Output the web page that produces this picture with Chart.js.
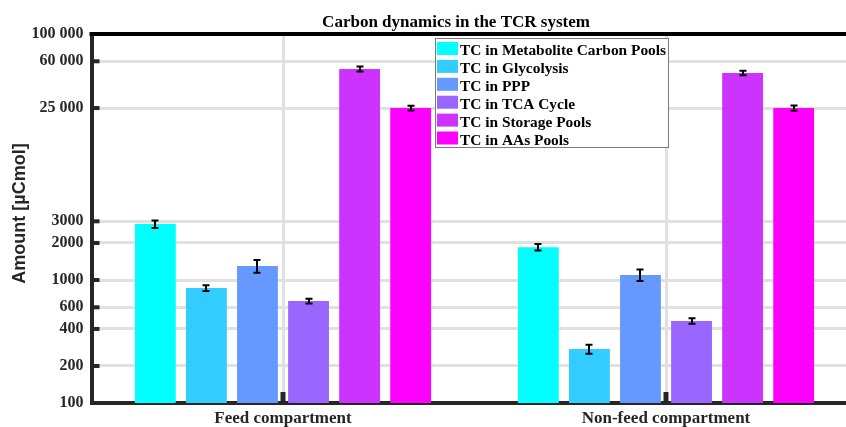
<!DOCTYPE html>
<html>
<head>
<meta charset="utf-8">
<script src="https://cdn.jsdelivr.net/npm/chart.js@4.4.1/dist/chart.umd.min.js"></script>
<style>
html,body{margin:0;padding:0;background:#fff;overflow:hidden;width:846px;height:427px}
#wrap{width:860px;height:427px}
</style>
</head>
<body>
<div id="wrap"><canvas id="c" width="860" height="427"></canvas></div>
<script>
// ---- data ----
const categories = ['Feed compartment', 'Non-feed compartment'];
const seriesLabels = ['TC in Metabolite Carbon Pools', 'TC in Glycolysis', 'TC in PPP', 'TC in TCA Cycle', 'TC in Storage Pools', 'TC in AAs Pools'];
const seriesColors = ['#00FFFF', '#33CCFF', '#6699FF', '#9966FF', '#CC33FF', '#FF00FF'];
const metabolite    = [2850, 1850];
const metaboliteErr = [200, 115];
const glycolysis    = [860, 275];
const glycolysisErr = [48, 23];
const ppp           = [1300, 1100];
const pppErr        = [155, 120];
const tca           = [675, 465];
const tcaErr        = [30, 24];
const storage       = [52000, 48200];
const storageErr    = [2400, 2000];
const aas           = [25000, 25000];
const aasErr        = [1100, 1200];
const yTicks = [100, 200, 400, 600, 1000, 2000, 3000, 25000, 60000, 100000];
const chartTitle = 'Carbon dynamics in the TCR system';
const yTitle = 'Amount [\u00B5Cmol]';

const seriesValues = [metabolite, glycolysis, ppp, tca, storage, aas];
const seriesErrors = [metaboliteErr, glycolysisErr, pppErr, tcaErr, storageErr, aasErr];

const SERIF = '"Liberation Serif", "Times New Roman", serif';
const SANS = '"Liberation Sans", Arial, sans-serif';
const AXIS = '#262626';

function fmt(v) {
  if (v >= 10000) {
    const s = String(Math.round(v));
    return s.slice(0, s.length - 3) + ' ' + s.slice(s.length - 3);
  }
  return String(v);
}

const extras = {
  id: 'extras',
  afterDatasetsDraw(chart) {
    const ctx = chart.ctx;
    const ca = chart.chartArea;
    const ys = chart.scales.y;
    const xs = chart.scales.x;
    ctx.save();
    // error bars
    ctx.strokeStyle = '#000';
    ctx.lineWidth = 2;
    seriesValues.forEach((vals, i) => {
      const meta = chart.getDatasetMeta(i);
      meta.data.forEach((el, j) => {
        const v = vals[j], e = seriesErrors[i][j];
        const x = Math.round(el.x);
        const yt = ys.getPixelForValue(v + e);
        const yb = ys.getPixelForValue(v - e);
        ctx.beginPath();
        ctx.moveTo(x, yt); ctx.lineTo(x, yb);
        ctx.moveTo(x - 3.5, yt); ctx.lineTo(x + 3.5, yt);
        ctx.moveTo(x - 3.5, yb); ctx.lineTo(x + 3.5, yb);
        ctx.stroke();
      });
    });
    // inner tick marks
    ctx.fillStyle = AXIS;
    yTicks.forEach(v => {
      const y = ys.getPixelForValue(v);
      ctx.fillRect(ca.left, y - 2, 8, 4);
    });
    categories.forEach((c, i) => {
      const x = xs.getPixelForValue(i);
      ctx.fillRect(x - 2.5, ca.bottom - 11, 5, 11);
    });
    // top border
    ctx.fillStyle = '#000';
    ctx.fillRect(ca.left - 2, ca.top - 2, ca.right - ca.left + 4, 4);

    // legend
    const lx = 435.5, ly = 38.5, lw = 233, lh = 109;
    ctx.fillStyle = '#fff';
    ctx.fillRect(lx, ly, lw, lh);
    ctx.strokeStyle = '#7a7a7a';
    ctx.lineWidth = 1;
    ctx.strokeRect(lx, ly, lw, lh);
    ctx.font = 'bold 15.4px ' + SERIF;
    ctx.textBaseline = 'alphabetic';
    ctx.textAlign = 'left';
    seriesLabels.forEach((lab, i) => {
      const ry = 42 + i * 17.9;
      ctx.fillStyle = seriesColors[i];
      ctx.fillRect(437, ry, 21, 13);
      ctx.fillStyle = '#000';
      ctx.fillText(lab, 460, ry + 13);
    });

    // title
    ctx.fillStyle = '#000';
    ctx.font = 'bold 17px ' + SERIF;
    ctx.textAlign = 'center';
    ctx.fillText(chartTitle, 456, 27);

    // y title
    ctx.save();
    ctx.translate(24.5, 213.5);
    ctx.rotate(-Math.PI / 2);
    ctx.fillStyle = AXIS;
    ctx.font = 'bold 18px ' + SANS;
    ctx.textAlign = 'center';
    ctx.textBaseline = 'alphabetic';
    ctx.fillText(yTitle, 0, 0);
    ctx.restore();

    ctx.restore();
  }
};

new Chart(document.getElementById('c'), {
  type: 'bar',
  data: {
    labels: categories,
    datasets: seriesLabels.map((lab, i) => ({
      label: lab,
      data: seriesValues[i],
      backgroundColor: seriesColors[i],
      borderWidth: 0,
      categoryPercentage: 0.8,
      barPercentage: 0.8
    }))
  },
  options: {
    responsive: false,
    animation: false,
    devicePixelRatio: 1,
    layout: { padding: { top: 34, right: 2.5, left: 0, bottom: 0 } },
    plugins: {
      legend: { display: false },
      title: { display: false },
      tooltip: { enabled: false }
    },
    scales: {
      x: {
        grid: { offset: false, color: '#e0e0e0', lineWidth: 3, drawTicks: false },
        border: { display: true, color: AXIS, width: 4 },
        ticks: {
          color: AXIS,
          padding: 5,
          font: { family: SERIF, size: 17, weight: 'bold' }
        },
        afterFit(scale) { scale.height = 24; }
      },
      y: {
        type: 'logarithmic',
        min: 100,
        max: 100000,
        grid: { color: '#e0e0e0', lineWidth: 3, drawTicks: false },
        border: { display: true, color: AXIS, width: 4 },
        ticks: {
          autoSkip: false,
          color: AXIS,
          padding: 8,
          font: { family: SERIF, size: 16, weight: 'bold' },
          callback: (v) => fmt(v)
        },
        afterBuildTicks(scale) { scale.ticks = yTicks.map(v => ({ value: v })); },
        afterFit(scale) { scale.width = 91.5; }
      }
    }
  },
  plugins: [extras]
});
</script>
</body>
</html>
